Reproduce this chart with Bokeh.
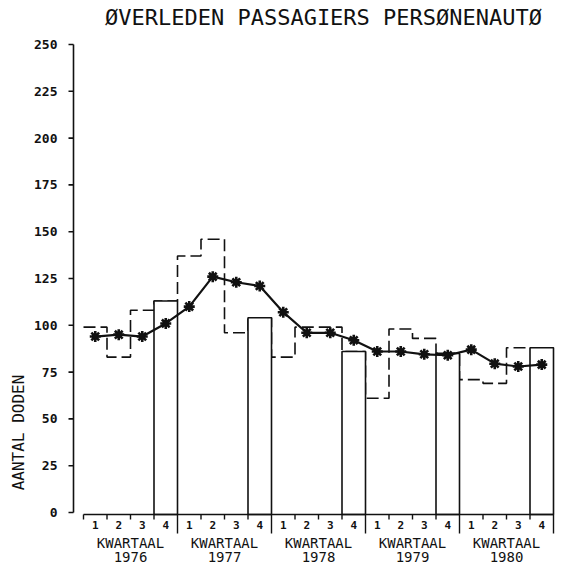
import numpy as np
from bokeh.plotting import figure
from bokeh.models import Range1d
from bokeh.core.properties import value
from bokeh.embed import file_html
from bokeh.resources import INLINE

# ---------------- data ----------------
years = ["1976", "1977", "1978", "1979", "1980"]
quarter_labels = ["1", "2", "3", "4"]
# deaths per quarter (Q1..Q4 for each year)
deaths = [99, 83, 108, 113,
          137, 146, 96, 104,
          83, 99, 99, 86,
          61, 98, 93, 85,
          71, 69, 88, 88]
# moving average (line with star markers)
trend = [94, 95, 94, 101,
         110, 126, 123, 121,
         107, 96, 96, 92,
         86, 86, 84.5, 84,
         87, 79.5, 78, 79]
y_ticks = [0, 25, 50, 75, 100, 125, 150, 175, 200, 225, 250]
title_text = "ØVERLEDEN PASSAGIERS PERSØNENAUTØ"
y_label = "AANTAL DODEN"
period_label = "KWARTAAL"

# ---------------- calibration (screen pixels) ----------------
W, H = 566, 567
M = 0
X0, DX = 83.0, 23.5      # screen x of quarter 0, px per quarter
Y0, DY = 512.0, 1.872    # screen y of value 0, px per unit


def qx(px):
    return (px - X0) / DX


def vy(py):
    return (Y0 - py) / DY


p = figure(width=W, height=H,
           x_range=Range1d(qx(M), qx(M + W)),
           y_range=Range1d(vy(M + H), vy(M)),
           x_axis_type=None, y_axis_type=None,
           output_backend="svg", toolbar_location=None,
           min_border=0)
p.outline_line_color = None
p.grid.visible = False
p.background_fill_color = "white"
p.border_fill_color = "white"

INK = "#111111"
FONT = value("DejaVu Sans Mono")

n = len(deaths)
q = np.arange(n)
centers = q + 0.5
base = vy(514)   # level of the x axis line

# dashed step outline of the quarterly values
p.step(x=list(range(n + 1)), y=deaths + [deaths[-1]], mode="after",
       line_dash="12 5", line_width=1.6, line_color=INK)

# fourth-quarter bars (standing on the x axis line)
q4 = np.array([i for i in range(n) if i % 4 == 3])
p.quad(left=q4, right=q4 + 1, bottom=base, top=[deaths[i] for i in q4],
       fill_color="white", line_color=INK, line_width=1.6)

# moving average with star markers
p.line(x=centers, y=trend, line_width=2.2, line_color=INK)
p.scatter(x=centers, y=trend, marker="asterisk", size=11,
          line_width=2.6, line_color=INK)
p.scatter(x=centers, y=trend, marker="circle", size=5,
          fill_color=INK, line_color=INK)

# ---------------- y axis ----------------
ax_x = qx(73)
p.segment(x0=[ax_x], y0=[0], x1=[ax_x], y1=[y_ticks[-1]],
          line_color=INK, line_width=1.6)
p.segment(x0=[qx(68)] * len(y_ticks), y0=y_ticks,
          x1=[ax_x] * len(y_ticks), y1=y_ticks,
          line_color=INK, line_width=1.6)
p.text(x=[qx(57)] * len(y_ticks), y=y_ticks,
       text=[str(t) for t in y_ticks],
       text_align="right", text_baseline="middle",
       text_font=FONT, text_font_size="13px",
       text_font_style=value("bold"), text_color=INK)
p.text(x=[qx(18)], y=[vy(432)], text=[y_label], angle=np.pi / 2,
       text_align="center", text_baseline="middle",
       text_font=FONT, text_font_size="16px", text_color=INK)

# ---------------- x axis ----------------
p.segment(x0=[0], y0=[base], x1=[n], y1=[base],
          line_color=INK, line_width=1.6)
bounds = np.arange(n + 1)
tick_end = [vy(533) if (k % 4 == 0 and k > 0) else vy(519) for k in bounds]
p.segment(x0=bounds, y0=[base] * len(bounds), x1=bounds, y1=tick_end,
          line_color=INK, line_width=1.4)
p.text(x=centers, y=[vy(524)] * n,
       text=[quarter_labels[i % 4] for i in range(n)],
       text_align="center", text_baseline="middle",
       text_font=FONT, text_font_size="11px",
       text_font_style=value("bold"), text_color=INK)
year_centers = np.arange(len(years)) * 4 + 2
p.text(x=year_centers, y=[vy(542)] * len(years),
       text=[period_label] * len(years),
       text_align="center", text_baseline="middle",
       text_font=FONT, text_font_size="14px", text_color=INK)
p.text(x=year_centers, y=[vy(556)] * len(years), text=years,
       text_align="center", text_baseline="middle",
       text_font=FONT, text_font_size="14px", text_color=INK)

# ---------------- title ----------------
p.text(x=[qx(323)], y=[vy(17)], text=[title_text],
       text_align="center", text_baseline="middle",
       text_font=FONT, text_font_size="22px", text_color=INK)

open("out.html", "w").write(file_html(p, INLINE))
